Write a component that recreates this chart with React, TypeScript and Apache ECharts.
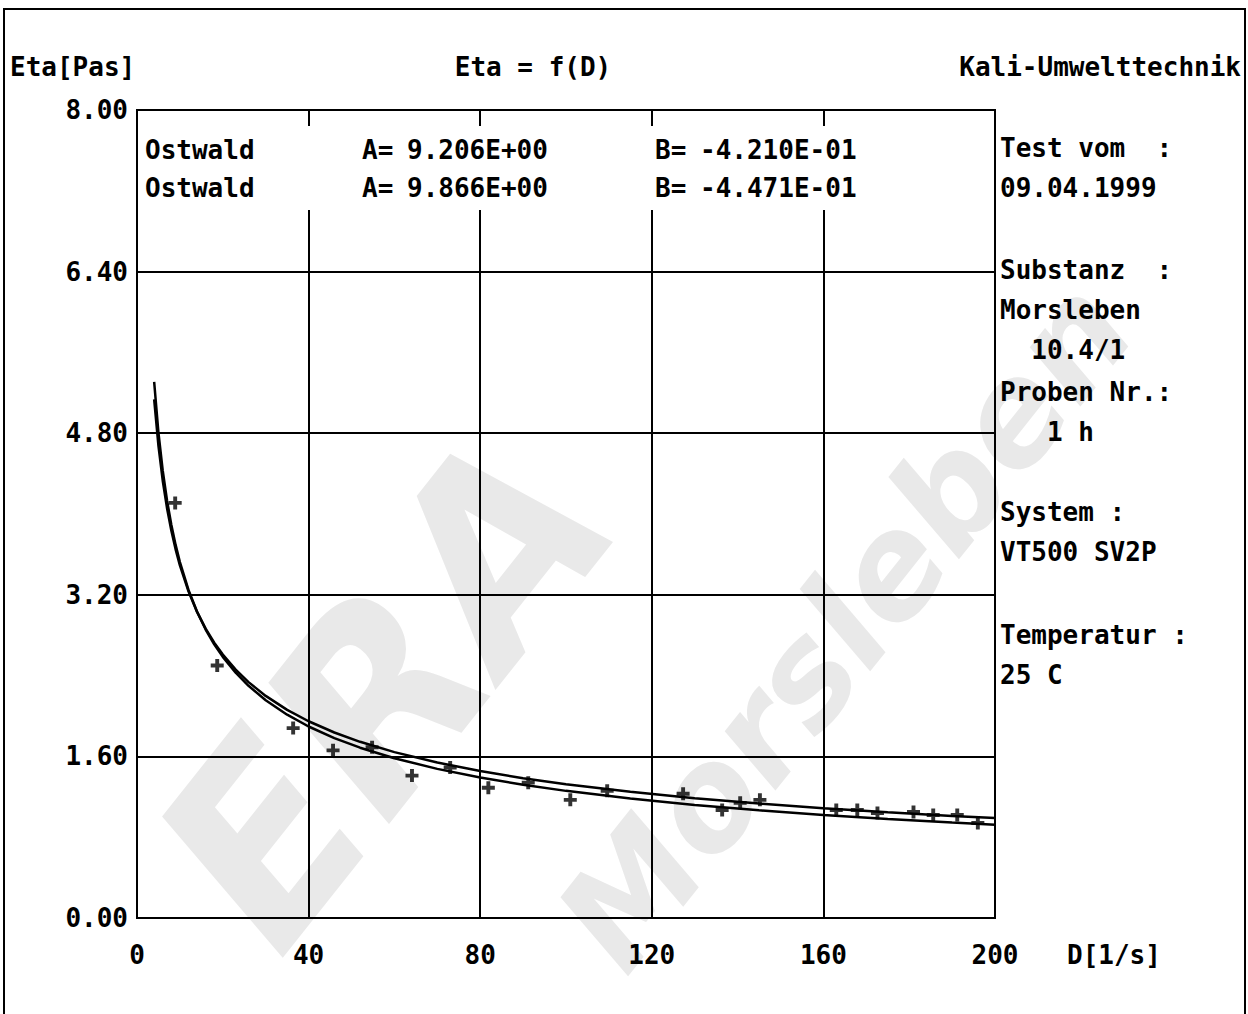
import React, { useEffect, useRef } from "react";
import * as echarts from "echarts";

// ---- data ----
const yTicks = [0, 1.6, 3.2, 4.8, 6.4, 8.0];
const xTicks = [0, 40, 80, 120, 160, 200];

// Ostwald fits, eta = A * D^B
const fitNames = ["Ostwald", "Ostwald"];
const fitA = [9.206, 9.866];
const fitB = [-0.421, -0.4471];

// shear rates D [1/s] where the fit curves are evaluated
const curveD = [4, 5, 6, 7, 8, 9, 10, 12, 14, 16, 18, 20, 23, 26, 30, 35, 40, 46, 52, 60, 70, 80, 90, 100, 115, 130, 145, 160, 175, 190, 200];

// measured points
const measD = [8.9, 18.7, 36.4, 45.7, 54.8, 64.1, 73.0, 81.9, 91.2, 101.0, 109.6, 127.3, 136.4, 140.6, 145.2, 163.0, 167.9, 172.6, 181.0, 185.6, 191.2, 196.0];
const measEta = [4.11, 2.5, 1.88, 1.66, 1.69, 1.41, 1.49, 1.29, 1.34, 1.17, 1.26, 1.23, 1.07, 1.14, 1.17, 1.07, 1.07, 1.04, 1.05, 1.02, 1.02, 0.94];

const infoText = [
  "Test vom  :",
  "09.04.1999",
  "Substanz  :",
  "Morsleben",
  "  10.4/1",
  "Proben Nr.:",
  "   1 h",
  "System :",
  "VT500 SV2P",
  "Temperatur :",
  "25 C",
];

const watermarkText = ["ERA", "Morsleben"];

// ---- layout ----
const W = 1248;
const H = 1014;
const FONT = "'DejaVu Sans Mono', 'Liberation Mono', monospace";
const TXT = `bold 26px ${FONT}`;
const infoY = [148, 188, 270, 310, 350, 392, 432, 512, 552, 635, 675];
const fitRowY = [150, 188];
const watermarkPos = [
  { x: 385, y: 690, size: 250 },
  { x: 845, y: 625, size: 140 },
];

const fmtExp = (v: number) => {
  const s = v.toExponential(3).toUpperCase();
  const [m, e] = s.split("E");
  const sign = e[0] === "-" ? "-" : "+";
  const ex = e.replace(/[+-]/, "").padStart(2, "0");
  return `${m}E${sign}${ex}`;
};

export default function App() {
  const ref = useRef<HTMLDivElement>(null);

  useEffect(() => {
    document.body.style.margin = "0";
    const chart = echarts.init(ref.current!, null, { renderer: "svg" });

    const txt = (s: string, x: number, y: number, align = "left") => ({
      type: "text",
      x,
      y,
      z: 20,
      style: {
        text: s,
        font: TXT,
        fill: "#000",
        textAlign: align,
        textVerticalAlign: "middle",
      },
    });

    // bold plus marker
    const plusPath = "path://M3.5,0h3v3.5h3.5v3h-3.5v3.5h-3v-3.5h-3.5v-3h3.5z";

    const graphics: any[] = [
      // watermark
      ...watermarkText.map((t, i) => ({
        type: "text",
        x: watermarkPos[i].x,
        y: watermarkPos[i].y,
        rotation: 0.9,
        z: -10,
        silent: true,
        style: {
          text: t,
          font: `italic bold ${watermarkPos[i].size}px 'DejaVu Sans', sans-serif`,
          fill: "#e9e9e9",
          textAlign: "center",
          textVerticalAlign: "middle",
        },
      })),
      // outer frame
      {
        type: "rect",
        z: 15,
        shape: { x: 4, y: 9, width: 1241, height: 1020 },
        style: { fill: "none", stroke: "#000", lineWidth: 2 },
      },
      // panel behind the fit parameters
      {
        type: "rect",
        z: 15,
        shape: { x: 139, y: 126, width: 854, height: 84 },
        style: { fill: "#fff" },
      },
      txt("Eta[Pas]", 10, 67),
      txt("Eta = f(D)", 533, 67, "center"),
      txt("Kali-Umwelttechnik", 1241, 67, "right"),
      txt("D[1/s]", 1067, 955),
    ];

    fitNames.forEach((n, i) => {
      graphics.push(txt(n, 145, fitRowY[i]));
      graphics.push(txt("A=", 362, fitRowY[i]));
      graphics.push(txt(fmtExp(fitA[i]), 407, fitRowY[i]));
      graphics.push(txt("B=", 655, fitRowY[i]));
      graphics.push(txt(fmtExp(fitB[i]), 700, fitRowY[i]));
    });

    infoText.forEach((s, i) => graphics.push(txt(s, 1000, infoY[i])));

    const fitSeries = fitA.map((a, i) => ({
      type: "line",
      name: `${fitNames[i]} ${i + 1}`,
      showSymbol: false,
      smooth: false,
      z: 5,
      lineStyle: { color: "#000", width: 2.5 },
      data: curveD.map((d) => [d, a * Math.pow(d, fitB[i])]),
    }));

    chart.setOption({
      animation: false,
      backgroundColor: "#fff",
      grid: {
        left: 137,
        top: 110,
        width: 858,
        height: 808,
        show: true,
        borderColor: "#000",
        borderWidth: 2,
        backgroundColor: "transparent",
        outerBoundsMode: "none",
      },
      xAxis: {
        type: "value",
        min: xTicks[0],
        max: xTicks[xTicks.length - 1],
        interval: xTicks[1] - xTicks[0],
        axisLine: { show: false },
        axisTick: { show: false },
        splitLine: { show: true, lineStyle: { color: "#000", width: 2 } },
        axisLabel: {
          margin: 24,
          color: "#000",
          fontFamily: FONT,
          fontWeight: "bold",
          fontSize: 26,
          formatter: (v: number) => String(v),
        },
      },
      yAxis: {
        type: "value",
        min: yTicks[0],
        max: yTicks[yTicks.length - 1],
        interval: yTicks[1] - yTicks[0],
        axisLine: { show: false },
        axisTick: { show: false },
        splitLine: { show: true, lineStyle: { color: "#000", width: 2 } },
        axisLabel: {
          margin: 9,
          color: "#000",
          fontFamily: FONT,
          fontWeight: "bold",
          fontSize: 26,
          formatter: (v: number) => v.toFixed(2),
        },
      },
      graphic: { elements: graphics },
      series: [
        ...fitSeries,
        {
          type: "scatter",
          name: "Messwerte",
          z: 6,
          symbol: plusPath,
          symbolSize: 13,
          itemStyle: { color: "#000" },
          data: measD.map((d, i) => [d, measEta[i]]),
        },
      ],
    });

    return () => chart.dispose();
  }, []);

  return <div ref={ref} style={{ width: W, height: H }} />;
}
